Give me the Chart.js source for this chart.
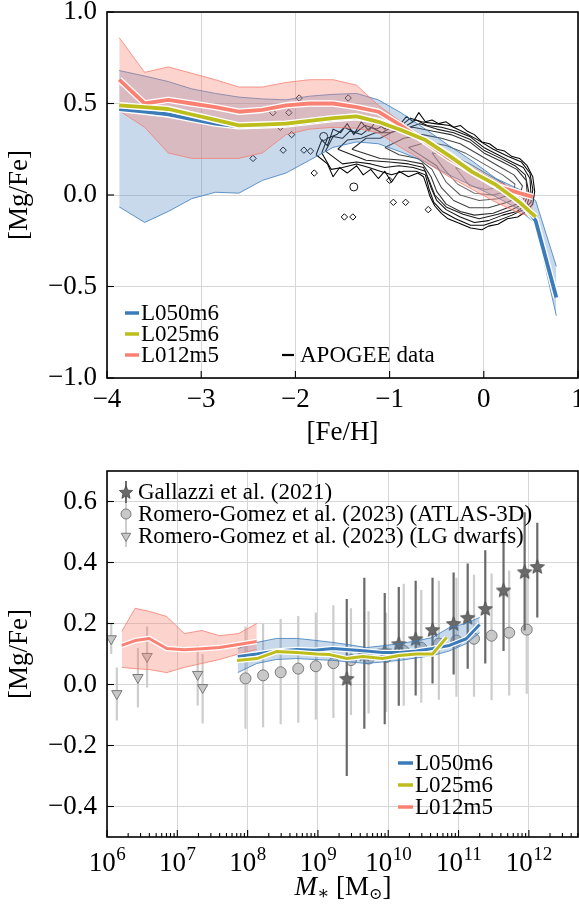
<!DOCTYPE html>
<html><head><meta charset="utf-8">
<script src="https://cdn.jsdelivr.net/npm/chart.js@4.4.0/dist/chart.umd.min.js"></script>
<style>
html,body{margin:0;padding:0;background:#fff;}
#wrap{position:relative;width:579px;height:908px;overflow:hidden;background:#fff;}
canvas{position:absolute;left:0;}
#c1{top:0;}
#c2{top:450px;}
</style></head><body>
<div id="wrap"><canvas id="c1" width="579" height="450"></canvas><canvas id="c2" width="579" height="458"></canvas></div>
<script>
// ---------------- DATA: top panel ([Mg/Fe] vs [Fe/H]) ----------------
const seriesNames = ['L050m6', 'L025m6', 'L012m5'];
const fehTicks = [-4, -3, -2, -1, 0, 1];
const mgfeTicksTop = [-1.0, -0.5, 0.0, 0.5, 1.0];

const fehL050 = [-3.87,-3.6,-3.35,-3.1,-2.85,-2.6,-2.35,-2.1,-1.85,-1.6,-1.35,-1.12,-0.88,-0.62,-0.37,-0.12,0.13,0.38,0.55,0.77];
const mgfeL050 = [0.47,0.455,0.44,0.415,0.39,0.375,0.38,0.385,0.40,0.415,0.425,0.405,0.36,0.30,0.22,0.13,0.05,-0.03,-0.14,-0.56];
const mgfeL050Hi = [0.68,0.65,0.62,0.58,0.555,0.535,0.525,0.52,0.54,0.55,0.555,0.52,0.45,0.36,0.27,0.185,0.09,0.03,-0.03,-0.39];
const mgfeL050Lo = [-0.065,-0.15,-0.09,-0.02,0.015,0.01,0.08,0.12,0.19,0.26,0.29,0.28,0.235,0.18,0.11,0.05,-0.01,-0.08,-0.16,-0.66];

const fehL025 = [-3.87,-3.6,-3.35,-3.1,-2.85,-2.6,-2.35,-2.1,-1.85,-1.6,-1.35,-1.12,-0.88,-0.62,-0.37,-0.12,0.13,0.38,0.55];
const mgfeL025 = [0.49,0.48,0.47,0.44,0.41,0.38,0.385,0.39,0.405,0.42,0.43,0.40,0.355,0.30,0.215,0.125,0.055,-0.04,-0.12];

const fehL012 = [-3.87,-3.6,-3.35,-3.1,-2.85,-2.6,-2.35,-2.1,-1.85,-1.6,-1.35,-1.12,-0.88,-0.62,-0.37,-0.12,0.13,0.38,0.52];
const mgfeL012 = [0.63,0.50,0.52,0.50,0.48,0.455,0.465,0.49,0.50,0.50,0.48,0.455,0.38,0.29,0.20,0.125,0.05,0.01,-0.01];
const mgfeL012Hi = [0.86,0.67,0.70,0.665,0.63,0.59,0.59,0.615,0.63,0.63,0.60,0.49,0.40,0.31,0.215,0.15,0.075,0.025,0.0];
const mgfeL012Lo = [0.46,0.37,0.23,0.20,0.20,0.20,0.23,0.33,0.36,0.37,0.365,0.34,0.26,0.18,0.10,0.03,-0.04,-0.10,-0.12];

// APOGEE density contours ([Fe/H], [Mg/Fe]) from outermost to innermost
const apogeeContour1 = [[-1.78,0.22],[-1.72,0.30],[-1.66,0.27],[-1.6,0.36],[-1.52,0.34],[-1.45,0.39],[-1.38,0.33],[-1.3,0.40],[-1.22,0.35],[-1.15,0.40],[-1.05,0.36],[-0.98,0.41],[-0.9,0.38],[-0.82,0.43],[-0.75,0.40],[-0.69,0.45],[-0.62,0.40],[-0.55,0.41],[-0.48,0.39],[-0.4,0.40],[-0.32,0.37],[-0.25,0.38],[-0.18,0.35],[-0.1,0.33],[-0.02,0.29],[0.06,0.28],[0.14,0.25],[0.22,0.24],[0.3,0.21],[0.38,0.20],[0.46,0.16],[0.52,0.10],[0.54,0.02],[0.52,-0.05],[0.45,-0.09],[0.36,-0.12],[0.25,-0.13],[0.15,-0.16],[0.05,-0.17],[-0.02,-0.19],[-0.14,-0.18],[-0.28,-0.15],[-0.38,-0.13],[-0.45,-0.10],[-0.52,-0.06],[-0.57,-0.01],[-0.6,0.04],[-0.64,0.10],[-0.7,0.12],[-0.8,0.10],[-0.9,0.13],[-0.98,0.07],[-1.05,0.13],[-1.12,0.09],[-1.2,0.14],[-1.28,0.11],[-1.35,0.16],[-1.45,0.12],[-1.53,0.15],[-1.6,0.10],[-1.66,0.17],[-1.78,0.22]];
const apogeeContour2 = [[-1.72,0.23],[-1.66,0.31],[-1.56,0.33],[-1.48,0.37],[-1.36,0.34],[-1.26,0.38],[-1.14,0.36],[-1.02,0.39],[-0.9,0.37],[-0.78,0.42],[-0.66,0.40],[-0.52,0.39],[-0.36,0.38],[-0.2,0.34],[-0.06,0.30],[0.1,0.25],[0.26,0.21],[0.4,0.18],[0.49,0.12],[0.52,0.03],[0.5,-0.04],[0.42,-0.08],[0.3,-0.11],[0.15,-0.14],[0.0,-0.165],[-0.14,-0.165],[-0.3,-0.13],[-0.44,-0.09],[-0.53,-0.04],[-0.58,0.03],[-0.62,0.11],[-0.72,0.13],[-0.85,0.13],[-0.98,0.11],[-1.1,0.13],[-1.22,0.15],[-1.35,0.17],[-1.5,0.15],[-1.62,0.14],[-1.72,0.23]];
const apogeeContour3 = [[-1.68,0.24],[-1.6,0.32],[-1.5,0.31],[-1.42,0.35],[-1.3,0.33],[-1.2,0.37],[-1.08,0.34],[-0.95,0.38],[-0.85,0.37],[-0.72,0.41],[-0.6,0.38],[-0.45,0.37],[-0.3,0.35],[-0.15,0.32],[0.0,0.26],[0.15,0.22],[0.3,0.18],[0.42,0.15],[0.49,0.09],[0.5,0.01],[0.46,-0.05],[0.35,-0.09],[0.2,-0.11],[0.05,-0.14],[-0.1,-0.15],[-0.25,-0.12],[-0.4,-0.08],[-0.5,-0.03],[-0.56,0.04],[-0.62,0.13],[-0.75,0.15],[-0.9,0.16],[-1.05,0.15],[-1.2,0.17],[-1.35,0.18],[-1.5,0.17],[-1.68,0.24]];
const apogeeContour4 = [[-1.55,0.25],[-1.45,0.30],[-1.3,0.31],[-1.15,0.34],[-1.0,0.34],[-0.85,0.36],[-0.68,0.39],[-0.5,0.36],[-0.32,0.34],[-0.15,0.305],[0.0,0.245],[0.18,0.20],[0.33,0.16],[0.44,0.11],[0.48,0.01],[0.43,-0.045],[0.3,-0.08],[0.15,-0.105],[-0.05,-0.13],[-0.22,-0.105],[-0.4,-0.065],[-0.52,0.0],[-0.58,0.08],[-0.64,0.15],[-0.8,0.17],[-1.0,0.18],[-1.25,0.19],[-1.55,0.25]];
const apogeeContour5 = [[-1.4,0.25],[-1.25,0.31],[-1.1,0.31],[-0.95,0.35],[-0.75,0.37],[-0.55,0.35],[-0.35,0.33],[-0.15,0.29],[0.0,0.23],[0.2,0.18],[0.35,0.14],[0.45,0.08],[0.46,0.01],[0.4,-0.04],[0.25,-0.07],[0.1,-0.1],[-0.1,-0.11],[-0.25,-0.09],[-0.4,-0.05],[-0.5,0.02],[-0.56,0.1],[-0.65,0.17],[-0.85,0.19],[-1.1,0.2],[-1.4,0.25]];
const apogeeContour6 = [[-1.05,0.26],[-0.85,0.31],[-0.65,0.33],[-0.45,0.31],[-0.25,0.28],[-0.05,0.22],[0.15,0.16],[0.32,0.11],[0.41,0.05],[0.38,-0.01],[0.25,-0.04],[0.05,-0.07],[-0.15,-0.07],[-0.32,-0.03],[-0.45,0.04],[-0.55,0.14],[-0.7,0.2],[-0.9,0.22],[-1.05,0.26]];
const apogeeContour7 = [[-0.8,0.26],[-0.6,0.29],[-0.4,0.27],[-0.2,0.23],[0.0,0.17],[0.2,0.11],[0.33,0.06],[0.32,0.01],[0.15,-0.02],[-0.05,-0.03],[-0.25,0.0],[-0.4,0.07],[-0.5,0.16],[-0.65,0.21],[-0.8,0.26]];
const apogeeContour8 = [[-0.55,0.23],[-0.35,0.22],[-0.15,0.17],[0.05,0.11],[0.22,0.06],[0.25,0.02],[0.1,0.0],[-0.1,0.01],[-0.28,0.06],[-0.42,0.14],[-0.55,0.23]];
const apogeeContour9 = [[-0.3,0.15],[-0.1,0.12],[0.1,0.07],[0.15,0.04],[0.02,0.03],[-0.15,0.05],[-0.3,0.15]];
// isolated APOGEE stars outside the contours
const apogeeOutFeh = [-1.96,-1.44,-2.24,-2.07,-2.16,-2.04,-2.45,-2.13,-1.91,-1.84,-1.8,-1.0,-0.96,-0.83,-0.59,-1.48,-1.39];
const apogeeOutMgfe = [0.53,0.53,0.45,0.45,0.37,0.33,0.20,0.245,0.245,0.24,0.12,0.08,-0.04,-0.04,-0.08,-0.12,-0.12];
const apogeeBlobFeh = [-1.70,-1.38];
const apogeeBlobMgfe = [0.32,0.044];

// ---------------- DATA: bottom panel ([Mg/Fe] vs stellar mass) ----------------
const massDecades = [6, 7, 8, 9, 10, 11, 12];
const minorMultipliers = [2, 3, 4, 5, 6, 7, 8, 9];
const mgfeTicksBottom = [-0.4, -0.2, 0.0, 0.2, 0.4, 0.6];

const logMassL050 = [7.86,8.13,8.41,8.7,8.95,9.21,9.45,9.69,9.92,10.16,10.4,10.63,10.87,11.11,11.3];
const mgfeMassL050 = [0.092,0.10,0.11,0.115,0.112,0.118,0.114,0.11,0.105,0.105,0.11,0.118,0.128,0.15,0.197];
const mgfeMassL050Hi = [0.118,0.138,0.151,0.151,0.145,0.138,0.13,0.121,0.127,0.134,0.143,0.154,0.187,0.20,0.22];
const mgfeMassL050Lo = [0.039,0.069,0.082,0.085,0.082,0.079,0.074,0.069,0.074,0.079,0.087,0.095,0.11,0.134,0.17];

const logMassL025 = [7.85,8.13,8.41,8.7,8.98,9.17,9.41,9.64,9.92,10.16,10.4,10.63,10.83];
const mgfeMassL025 = [0.079,0.085,0.108,0.105,0.10,0.098,0.085,0.092,0.085,0.095,0.10,0.10,0.154];

const logMassL012 = [6.21,6.4,6.6,6.85,7.1,7.35,7.6,7.87,8.13];
const mgfeMassL012 = [0.128,0.144,0.151,0.118,0.114,0.117,0.121,0.131,0.141];
const mgfeMassL012Hi = [0.174,0.25,0.24,0.223,0.167,0.177,0.16,0.167,0.20];
const mgfeMassL012Lo = [0.056,0.052,0.049,0.039,0.056,0.069,0.082,0.10,0.115];

const obsNames = ['Gallazzi et al. (2021)', 'Romero-Gomez et al. (2023) (ATLAS-3D)', 'Romero-Gomez et al. (2023) (LG dwarfs)'];
const gallazziLogM = [9.41,9.66,9.95,10.15,10.39,10.63,10.93,11.13,11.38,11.64,11.94,12.12];
const gallazziMgfe = [0.02,0.10,0.11,0.134,0.15,0.18,0.20,0.22,0.249,0.31,0.37,0.387];
const gallazziLo = [-0.30,-0.145,-0.13,-0.07,-0.036,0.003,0.033,0.052,0.069,0.11,0.177,0.22];
const gallazziHi = [0.28,0.35,0.30,0.32,0.34,0.35,0.367,0.397,0.44,0.505,0.565,0.53];

const atlasLogM = [7.97,8.22,8.47,8.72,8.97,9.22,9.47,9.72,9.97,10.22,10.47,10.72,10.97,11.22,11.47,11.72,11.97];
const atlasMgfe = [0.02,0.03,0.04,0.052,0.06,0.07,0.08,0.085,0.09,0.11,0.12,0.134,0.144,0.15,0.16,0.17,0.18];
const atlasHi = [0.19,0.20,0.215,0.225,0.236,0.26,0.25,0.24,0.235,0.33,0.31,0.34,0.35,0.36,0.364,0.374,0.38];
const atlasLo = [-0.145,-0.14,-0.13,-0.125,-0.115,-0.11,-0.10,-0.095,-0.09,-0.07,-0.06,-0.05,-0.04,-0.04,-0.052,-0.036,-0.03];

const lgLogM = [6.06,6.14,6.44,6.57,7.29,7.36];
const lgMgfe = [0.15,-0.03,0.023,0.092,0.033,-0.01];
const lgHi = [0.20,0.056,0.12,0.19,0.128,0.10];
const lgLo = [0.10,-0.118,-0.075,-0.01,-0.069,-0.128];

// ---------------- STYLE ----------------
const SERIF = "'Liberation Serif','DejaVu Serif',serif";
Chart.defaults.font.family = SERIF;
Chart.defaults.color = '#000';
const GRID = '#d6d6d6';
const BLUE = '#3b7bb9', OLIVE = '#bdbd1c', SALMON = '#fa8072';
const BLUE_FILL = 'rgba(70,130,185,0.30)', BLUE_EDGE = 'rgba(60,125,190,0.8)';
const RED_FILL = 'rgba(250,128,114,0.35)', RED_EDGE = 'rgba(245,120,105,0.75)';
const contourColors = ['#000','#080808','#111','#1c1c1c','#2e2e2e','#454545','#5e5e5e','#777','#929292'];
const FS = 27, LFS = 23;

// ---------------- helpers ----------------
const xy = (xs, ys) => xs.map((x, i) => ({x, y: ys[i]}));
const xyLog = (ls, ys) => ls.map((l, i) => ({x: Math.pow(10, l), y: ys[i]}));
const pairs = arr => arr.map(p => ({x: p[0], y: p[1]}));
function errSegs(ls, lo, hi) {
  const out = [];
  ls.forEach((l, i) => { const x = Math.pow(10, l); out.push({x, y: lo[i]}, {x, y: hi[i]}, {x, y: null}); });
  return out;
}
const fmt = (v, d) => (v < -1e-9 ? '\u2212' : '') + Math.abs(v).toFixed(d);
function lineDs(data, color, width, extra) {
  return Object.assign({data, borderColor: color, borderWidth: width, pointRadius: 0, fill: false, tension: 0, borderCapStyle: 'butt', borderJoinStyle: 'round'}, extra || {});
}
function pointDs(data, style, radius, fillC, edgeC, extra) {
  return Object.assign({data, showLine: false, borderWidth: 0, borderColor: 'rgba(0,0,0,0)', pointStyle: style, pointRadius: radius,
    pointBackgroundColor: fillC, pointBorderColor: edgeC, pointBorderWidth: 1, fill: false}, extra || {});
}
function makeStar(r, fillC, edgeC) {
  const s = Math.ceil(2 * r + 4), c = document.createElement('canvas');
  c.width = s; c.height = s;
  const g = c.getContext('2d');
  g.translate(s / 2, s / 2 + r * 0.1);
  g.beginPath();
  for (let i = 0; i < 10; i++) {
    const a = -Math.PI / 2 + i * Math.PI / 5, rr = i % 2 ? r * 0.45 : r;
    g.lineTo(rr * Math.cos(a), rr * Math.sin(a));
  }
  g.closePath(); g.fillStyle = fillC; g.fill(); g.strokeStyle = edgeC; g.lineWidth = 0.8; g.stroke();
  return c;
}
const starImg = makeStar(7.5, '#6a6a6a', '#4a4a4a');
const starLegend = makeStar(7, '#6a6a6a', '#4a4a4a');
function finalize(sets) { const n = sets.length; sets.forEach((d, i) => { d.order = n - i; }); return sets; }

// force the plot area to the reference's pixel box
const pinArea = {
  id: 'pinArea',
  afterLayout(chart, args, o) {
    const a = chart.chartArea;
    a.left = o.left; a.right = o.right; a.top = o.top; a.bottom = o.bottom;
    a.width = a.right - a.left; a.height = a.bottom - a.top;
    const x = chart.scales.x, y = chart.scales.y;
    x.left = a.left; x.right = a.right; x.width = a.width;
    x.top = a.bottom; x.bottom = chart.height; x.height = x.bottom - x.top;
    y.top = a.top; y.bottom = a.bottom; y.height = a.height;
    y.left = 0; y.right = a.left; y.width = a.left;
    x.configure(); y.configure();
  }
};

const framePlugin = {
  id: 'frame',
  afterDraw(chart) {
    const {ctx, chartArea: a, scales} = chart;
    ctx.save();
    ctx.strokeStyle = '#000'; ctx.lineWidth = 1.1;
    scales.x.ticks.forEach(t => {
      const px = scales.x.getPixelForValue(t.value);
      if (px < a.left - 0.5 || px > a.right + 0.5) return;
      const len = t.major === false ? 4 : 7;
      ctx.beginPath(); ctx.moveTo(px, a.bottom); ctx.lineTo(px, a.bottom - len); ctx.stroke();
    });
    scales.y.ticks.forEach(t => {
      const py = scales.y.getPixelForValue(t.value);
      ctx.beginPath(); ctx.moveTo(a.left, py); ctx.lineTo(a.left + 7, py); ctx.stroke();
    });
    ctx.lineWidth = 1.6;
    ctx.strokeRect(a.left, a.top, a.right - a.left, a.bottom - a.top);
    ctx.restore();
  }
};

// ---------------- TOP CHART ----------------
const topSets = [];
[apogeeContour1, apogeeContour2, apogeeContour3, apogeeContour4, apogeeContour5, apogeeContour6, apogeeContour7, apogeeContour8, apogeeContour9]
  .forEach((ring, i) => topSets.push(lineDs(pairs(ring), contourColors[i], 1.05)));
topSets.push(pointDs(xy(apogeeOutFeh, apogeeOutMgfe), 'rectRot', 3.2, 'rgba(255,255,255,0)', '#111'));
topSets.push(pointDs(xy(apogeeBlobFeh, apogeeBlobMgfe), 'circle', 4, 'rgba(255,255,255,0)', '#111'));
let li = topSets.length;
topSets.push(lineDs(xy(fehL050, mgfeL050Lo), BLUE_EDGE, 1));
topSets.push(lineDs(xy(fehL050, mgfeL050Hi), BLUE_EDGE, 1, {fill: li, backgroundColor: BLUE_FILL}));
li = topSets.length;
topSets.push(lineDs(xy(fehL012, mgfeL012Lo), RED_EDGE, 1));
topSets.push(lineDs(xy(fehL012, mgfeL012Hi), RED_EDGE, 1, {fill: li, backgroundColor: RED_FILL}));
topSets.push(lineDs(xy(fehL050, mgfeL050), '#fff', 6.5));
topSets.push(lineDs(xy(fehL050, mgfeL050), BLUE, 3.8));
topSets.push(lineDs(xy(fehL012, mgfeL012), '#fff', 6.5));
topSets.push(lineDs(xy(fehL012, mgfeL012), SALMON, 3.8));
topSets.push(lineDs(xy(fehL025, mgfeL025), '#fff', 6.5));
topSets.push(lineDs(xy(fehL025, mgfeL025), OLIVE, 3.8));
finalize(topSets);

const topLegend = {
  id: 'topLegend',
  afterDraw(chart) {
    const ctx = chart.ctx;
    ctx.save();
    ctx.font = LFS + 'px ' + SERIF; ctx.textBaseline = 'middle'; ctx.fillStyle = '#000';
    const cols = [BLUE, OLIVE, SALMON], rows = [313, 334, 355];
    seriesNames.forEach((name, i) => {
      ctx.strokeStyle = cols[i]; ctx.lineWidth = 3.5;
      ctx.beginPath(); ctx.moveTo(125, rows[i]); ctx.lineTo(139, rows[i]); ctx.stroke();
      ctx.fillText(name, 141, rows[i] + 1);
    });
    ctx.strokeStyle = '#000'; ctx.lineWidth = 2.2;
    ctx.beginPath(); ctx.moveTo(282, 355); ctx.lineTo(294, 355); ctx.stroke();
    ctx.fillText('APOGEE data', 300, 356);
    ctx.restore();
  }
};

new Chart(document.getElementById('c1'), {
  type: 'line',
  data: {datasets: topSets},
  options: {
    responsive: false, animation: false, events: [],
    layout: {padding: {left: 0, top: 12, right: 1, bottom: 0}},
    plugins: {legend: {display: false}, tooltip: {enabled: false},
      pinArea: {left: 107, right: 578, top: 12, bottom: 378}},
    scales: {
      x: {
        type: 'linear', min: -4, max: 1,
        afterBuildTicks: s => { s.ticks = fehTicks.map(v => ({value: v})); },
        afterFit: s => { s.height = 72; s.paddingLeft = 0; s.paddingRight = 0; },
        ticks: {font: {size: FS, lineHeight: 1.2}, padding: 6, maxRotation: 0, autoSkip: false, callback: v => fmt(v, 0)},
        grid: {color: GRID, lineWidth: 1, drawTicks: false},
        border: {display: false},
        title: {display: true, text: '[Fe/H]', font: {size: FS, lineHeight: 1.2}, padding: {top: 0, bottom: 1}}
      },
      y: {
        type: 'linear', min: -1, max: 1,
        afterBuildTicks: s => { s.ticks = mgfeTicksTop.map(v => ({value: v})); },
        afterFit: s => { s.width = 107; s.paddingTop = 0; s.paddingBottom = 0; },
        ticks: {font: {size: FS, lineHeight: 1.2}, padding: 10, autoSkip: false, callback: v => fmt(v, 1)},
        grid: {color: GRID, lineWidth: 1, drawTicks: false},
        border: {display: false},
        title: {display: true, text: '[Mg/Fe]', font: {size: FS, lineHeight: 1.2}, padding: {top: 4, bottom: 0}}
      }
    }
  },
  plugins: [pinArea, framePlugin, topLegend]
});

// ---------------- BOTTOM CHART ----------------
const massTicks = [];
massDecades.forEach(d => {
  massTicks.push({value: Math.pow(10, d), major: true});
  minorMultipliers.forEach(m => { const v = m * Math.pow(10, d); if (v <= 5e12) massTicks.push({value: v, major: false}); });
});

const botSets = [];
botSets.push(lineDs(errSegs(atlasLogM, atlasLo, atlasHi), '#cdcdcd', 2.2, {spanGaps: false}));
botSets.push(lineDs(errSegs(lgLogM, lgLo, lgHi), '#cdcdcd', 2.2, {spanGaps: false}));
botSets.push(pointDs(xyLog(atlasLogM, atlasMgfe), 'circle', 5.5, '#c8c8c8', '#7a7a7a'));
botSets.push(pointDs(xyLog(lgLogM, lgMgfe), 'triangle', 6, '#c8c8c8', '#7a7a7a', {pointRotation: 180}));
botSets.push(lineDs(errSegs(gallazziLogM, gallazziLo, gallazziHi), '#6a6a6a', 2.2, {spanGaps: false}));
botSets.push(pointDs(xyLog(gallazziLogM, gallazziMgfe), starImg, 7.5, '#6a6a6a', '#4a4a4a'));
li = botSets.length;
botSets.push(lineDs(xyLog(logMassL050, mgfeMassL050Lo), BLUE_EDGE, 1));
botSets.push(lineDs(xyLog(logMassL050, mgfeMassL050Hi), BLUE_EDGE, 1, {fill: li, backgroundColor: BLUE_FILL}));
li = botSets.length;
botSets.push(lineDs(xyLog(logMassL012, mgfeMassL012Lo), RED_EDGE, 1));
botSets.push(lineDs(xyLog(logMassL012, mgfeMassL012Hi), RED_EDGE, 1, {fill: li, backgroundColor: RED_FILL}));
botSets.push(lineDs(xyLog(logMassL050, mgfeMassL050), '#fff', 5.5));
botSets.push(lineDs(xyLog(logMassL050, mgfeMassL050), BLUE, 3));
botSets.push(lineDs(xyLog(logMassL012, mgfeMassL012), '#fff', 5.5));
botSets.push(lineDs(xyLog(logMassL012, mgfeMassL012), SALMON, 3));
botSets.push(lineDs(xyLog(logMassL025, mgfeMassL025), '#fff', 5.5));
botSets.push(lineDs(xyLog(logMassL025, mgfeMassL025), OLIVE, 3));
finalize(botSets);

const botLegend = {
  id: 'botLegend',
  afterDraw(chart) {
    const ctx = chart.ctx;
    const {chartArea: a, scales} = chart;
    ctx.save();
    // decade tick labels 10^n with a real superscript
    ctx.fillStyle = '#000'; ctx.textBaseline = 'alphabetic'; ctx.textAlign = 'left';
    massDecades.forEach(d => {
      const px = scales.x.getPixelForValue(Math.pow(10, d));
      const base = '10', ex = String(d);
      ctx.font = FS + 'px ' + SERIF; const wb = ctx.measureText(base).width;
      ctx.font = '19px ' + SERIF; const we = ctx.measureText(ex).width;
      const x0 = px - (wb + we) / 2, yb = a.bottom + 34;
      ctx.font = FS + 'px ' + SERIF; ctx.fillText(base, x0, yb);
      ctx.font = '19px ' + SERIF; ctx.fillText(ex, x0 + wb + 0.5, yb - 11);
    });
    ctx.font = LFS + 'px ' + SERIF; ctx.textBaseline = 'middle';
    const rows = [42, 64, 86], mx = 126;
    ctx.lineWidth = 2;
    ctx.strokeStyle = '#6a6a6a'; ctx.beginPath(); ctx.moveTo(mx, rows[0] - 11); ctx.lineTo(mx, rows[0] + 11); ctx.stroke();
    ctx.strokeStyle = '#cdcdcd';
    [1, 2].forEach(i => { ctx.beginPath(); ctx.moveTo(mx, rows[i] - 11); ctx.lineTo(mx, rows[i] + 11); ctx.stroke(); });
    ctx.drawImage(starLegend, mx - starLegend.width / 2, rows[0] - starLegend.height / 2);
    ctx.fillStyle = '#c8c8c8'; ctx.strokeStyle = '#7a7a7a'; ctx.lineWidth = 1;
    Chart.helpers.drawPoint(ctx, {pointStyle: 'circle', radius: 5, borderWidth: 1, rotation: 0}, mx, rows[1]);
    Chart.helpers.drawPoint(ctx, {pointStyle: 'triangle', radius: 5.5, borderWidth: 1, rotation: 180}, mx, rows[2]);
    ctx.fillStyle = '#000';
    obsNames.forEach((n, i) => ctx.fillText(n, 138, rows[i] + 1));
    const cols = [BLUE, OLIVE, SALMON], r2 = [313, 335, 357];
    seriesNames.forEach((n, i) => {
      ctx.strokeStyle = cols[i]; ctx.lineWidth = 3.5;
      ctx.beginPath(); ctx.moveTo(398, r2[i]); ctx.lineTo(413, r2[i]); ctx.stroke();
      ctx.fillText(n, 415, r2[i] + 1);
    });
    // x-axis title  M_* [M_sun]
    const parts = [
      {t: 'M', f: 'italic ' + FS + 'px ' + SERIF, dy: 0},
      {t: '\u2217', f: '18px ' + SERIF, dy: 6},
      {t: ' [M', f: FS + 'px ' + SERIF, dy: 0},
      {t: '\u2299', f: '16px ' + SERIF, dy: 7},
      {t: ']', f: FS + 'px ' + SERIF, dy: 0}
    ];
    let w = 0;
    parts.forEach(p => { ctx.font = p.f; p.w = ctx.measureText(p.t).width; w += p.w; });
    let x = 343 - w / 2; const y = 438;
    ctx.textBaseline = 'middle'; ctx.textAlign = 'left';
    parts.forEach(p => { ctx.font = p.f; ctx.fillText(p.t, x, y + p.dy); x += p.w; });
    ctx.restore();
  }
};

new Chart(document.getElementById('c2'), {
  type: 'line',
  data: {datasets: botSets},
  options: {
    responsive: false, animation: false, events: [],
    layout: {padding: {left: 0, top: 21, right: 1, bottom: 0}},
    plugins: {legend: {display: false}, tooltip: {enabled: false},
      pinArea: {left: 107, right: 578, top: 21, bottom: 387}},
    scales: {
      x: {
        type: 'logarithmic', min: 1e6, max: 5e12,
        afterBuildTicks: s => { s.ticks = massTicks.map(t => ({value: t.value, major: t.major})); },
        afterFit: s => { s.height = 71; s.paddingLeft = 0; s.paddingRight = 0; },
        ticks: {display: false, autoSkip: false, maxRotation: 0},
        grid: {color: c => (c.tick && c.tick.major) ? GRID : 'rgba(0,0,0,0)', lineWidth: 1, drawTicks: false},
        border: {display: false},
        title: {display: false}
      },
      y: {
        type: 'linear', min: -0.5, max: 0.7,
        afterBuildTicks: s => { s.ticks = mgfeTicksBottom.map(v => ({value: v})); },
        afterFit: s => { s.width = 107; s.paddingTop = 0; s.paddingBottom = 0; },
        ticks: {font: {size: FS, lineHeight: 1.2}, padding: 10, autoSkip: false, callback: v => fmt(v, 1)},
        grid: {color: GRID, lineWidth: 1, drawTicks: false},
        border: {display: false},
        title: {display: true, text: '[Mg/Fe]', font: {size: FS, lineHeight: 1.2}, padding: {top: 4, bottom: 0}}
      }
    }
  },
  plugins: [pinArea, framePlugin, botLegend]
});
</script></body></html>
